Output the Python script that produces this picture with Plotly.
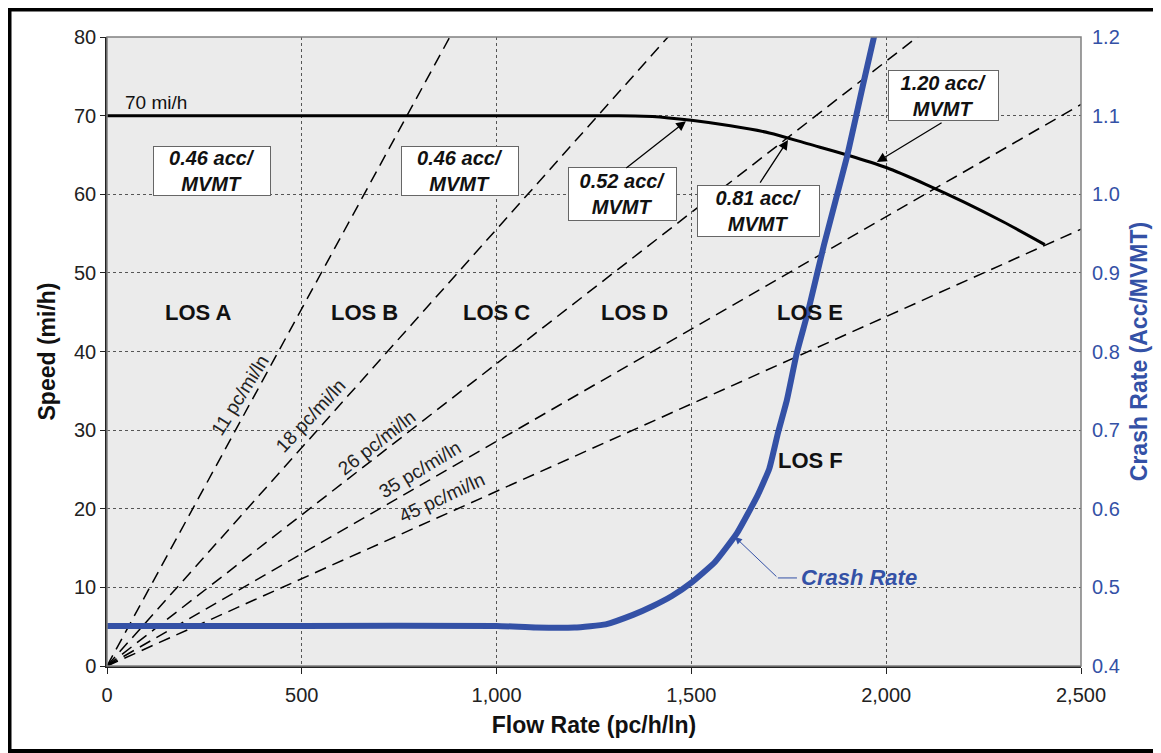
import plotly.graph_objects as go

# speed-flow curve (70 mi/h free-flow speed)
flow_sf = [0, 1200, 1300, 1400, 1500, 1600, 1700, 1800, 1900, 2000, 2100, 2200, 2300, 2407]
speed_sf = [70, 70, 70, 69.9, 69.4, 68.7, 67.8, 66.4, 65.0, 63.4, 61.3, 59.0, 56.5, 53.6]

# crash rate curve (right axis)
flow_cr = [0, 500, 1000, 1100, 1200, 1280, 1350, 1400, 1450, 1500, 1560, 1617,
           1670, 1700, 1722, 1745, 1770, 1800, 1840, 1900, 1940, 1970]
crash_cr = [0.451, 0.451, 0.451, 0.449, 0.449, 0.453, 0.465, 0.476, 0.489, 0.506, 0.532, 0.569,
            0.617, 0.651, 0.696, 0.738, 0.797, 0.852, 0.935, 1.049, 1.138, 1.203]

# LOS density boundaries (pc/mi/ln)
densities = [11, 18, 26, 35, 45]
density_labels = ["11 pc/mi/ln", "18 pc/mi/ln", "26 pc/mi/ln", "35 pc/mi/ln", "45 pc/mi/ln"]

los_labels = ["LOS A", "LOS B", "LOS C", "LOS D", "LOS E", "LOS F"]
rate_labels = ["0.46 acc/", "0.46 acc/", "0.52 acc/", "0.81 acc/", "1.20 acc/"]

FONT = "Liberation Sans, Arial, sans-serif"
BLUE = "#3451a6"

fig = go.Figure()

x_max = 2500
for d in densities:
    fig.add_trace(go.Scatter(
        x=[0, x_max], y=[0, x_max / d], mode="lines",
        line=dict(color="black", width=1.5, dash="12px,7px"),
        hoverinfo="skip", showlegend=False
    ))

fig.add_trace(go.Scatter(
    x=flow_sf, y=speed_sf, mode="lines",
    line=dict(color="black", width=3, shape="spline", smoothing=0.8),
    showlegend=False
))

fig.add_trace(go.Scatter(
    x=flow_cr, y=crash_cr, mode="lines", yaxis="y2",
    line=dict(color=BLUE, width=6, shape="spline", smoothing=0.4),
    showlegend=False
))

# density labels along the dashed lines
label_pos = [(341, 34.4, -58), (524, 31.8, -47), (693, 28.4, -38), (803, 25.0, -31), (860, 21.4, -25)]
for txt, (lx, ly, ang) in zip(density_labels, label_pos):
    fig.add_annotation(x=lx, y=ly, text=txt, showarrow=False, textangle=ang,
                       font=dict(size=19, color="#222", family=FONT))

# LOS labels
los_pos = [(235, 45), (660, 45), (1000, 45), (1355, 45), (1805, 45), (1805, 26.2)]
for txt, (lx, ly) in zip(los_labels, los_pos):
    fig.add_annotation(x=lx, y=ly, text=f"<b>{txt}</b>", showarrow=False,
                       font=dict(size=22, color="#111", family=FONT))

fig.add_annotation(x=41, y=71.7, text="70 mi/h", showarrow=False, xanchor="left",
                   font=dict(size=19, color="#111", family=FONT))

# crash rate boxes
box_pos = [(270, 63.0, 114, 46), (906, 63.0, 114, 46), (1323, 60.0, 105, 50),
           (1671, 57.9, 119, 48), (2146, 72.5, 107, 47)]
for txt, (bx, by, bw, bh) in zip(rate_labels, box_pos):
    fig.add_annotation(x=bx, y=by, text=f"<b><i>{txt}<br>MVMT</i></b>", showarrow=False,
                       width=bw, height=bh, bgcolor="white", bordercolor="#666",
                       borderwidth=1, borderpad=1,
                       font=dict(size=20, color="#111", family=FONT))

# arrows from boxes to the speed-flow curve
arrows = [((1486, 69.3), (1329, 63.2)), ((1748, 66.9), (1674, 61.3)), ((1976, 64.1), (2146, 69.2))]
for (tx, ty), (sx, sy) in arrows:
    fig.add_annotation(x=tx, y=ty, ax=sx, ay=sy, axref="x", ayref="y", text="",
                       showarrow=True, arrowhead=2, arrowsize=1.5, arrowwidth=1.3,
                       arrowcolor="black")

# crash rate callout
fig.add_shape(type="line", x0=1722, y0=11.2, x1=1771, y1=11.2,
              line=dict(color=BLUE, width=1))
fig.add_annotation(x=1612, y=16.4, ax=1722, ay=11.2, axref="x", ayref="y", text="",
                   showarrow=True, arrowhead=2, arrowsize=1.4, arrowwidth=1,
                   arrowcolor=BLUE)
fig.add_annotation(x=1777, y=11.2, text="<b><i>Crash Rate</i></b>", showarrow=False,
                   xanchor="left", font=dict(size=22, color=BLUE, family=FONT))

# plot frame (top/right) and outer border
fig.add_shape(type="rect", xref="paper", yref="paper", x0=0, y0=0, x1=1, y1=1,
              line=dict(color="#808080", width=1.5), layer="above")
fig.add_shape(type="rect", xref="paper", yref="paper", x0=-0.1001, y0=-0.1351,
              x1=1.09, y1=1.0437, line=dict(color="black", width=4))

fig.update_layout(
    width=1153, height=745,
    margin=dict(l=99, r=80, t=29, b=87),
    paper_bgcolor="white", plot_bgcolor="#ebebeb",
    font=dict(family=FONT, size=20, color="#222"),
    showlegend=False,
    xaxis=dict(
        range=[0, 2500], dtick=500, tickformat=",", showgrid=True,
        gridcolor="#555", griddash="dot", gridwidth=1,
        showline=True, linecolor="#222", linewidth=1.5,
        ticks="outside", ticklen=6, tickcolor="#222", ticklabelstandoff=4,
        zeroline=False,
        title=dict(text="<b>Flow Rate (pc/h/ln)</b>", font=dict(size=23, color="#111"), standoff=12),
    ),
    yaxis=dict(
        range=[0, 80], dtick=10, showgrid=True,
        gridcolor="#555", griddash="dot", gridwidth=1,
        showline=True, linecolor="#222", linewidth=1.5,
        ticks="outside", ticklen=5, tickcolor="#222",
        zeroline=False,
        title=dict(text="<b>Speed (mi/h)</b>", font=dict(size=23, color="#111"), standoff=12),
    ),
    yaxis2=dict(
        range=[0.4, 1.2], dtick=0.1, tickformat=".1f", overlaying="y", side="right",
        showgrid=False, zeroline=False, showline=False, ticks="",
        tickfont=dict(color=BLUE, size=20), ticklabelstandoff=10,
        title=dict(text="<b>Crash Rate (Acc/MVMT)</b>", font=dict(size=23, color=BLUE), standoff=12),
    ),
)

fig.write_html("out.html")
